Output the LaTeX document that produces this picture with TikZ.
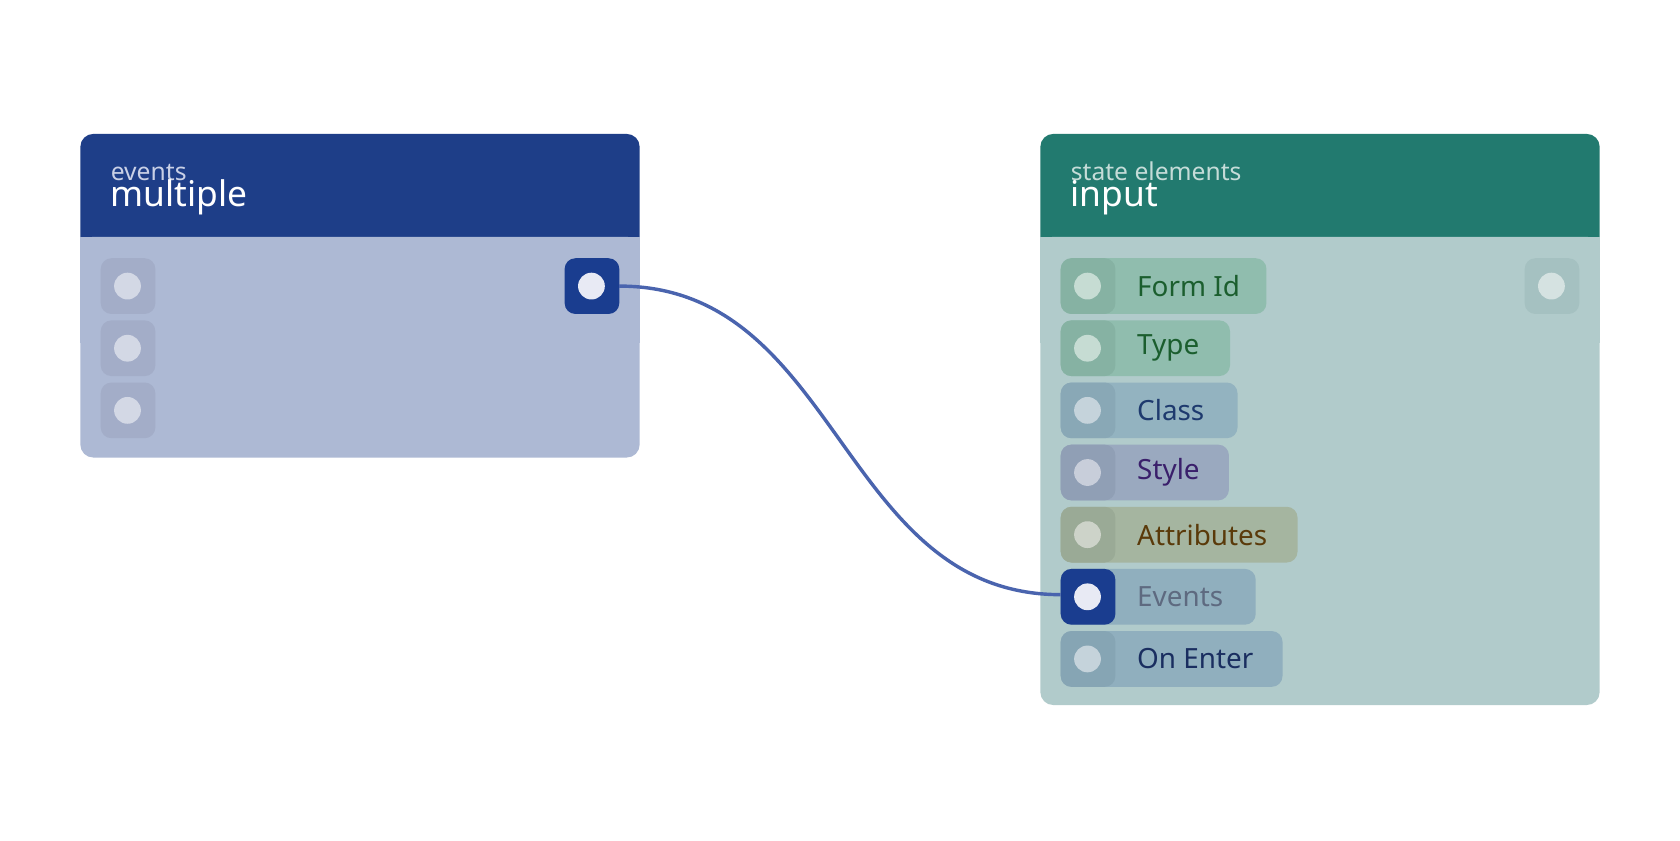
\documentclass[tikz,border=0pt]{standalone}
\usepackage{fontspec}
\setmainfont{Noto Sans}
\begin{document}
\begin{tikzpicture}[x=0.5pt,y=-0.5pt,
  pill/.style={rounded corners=5pt},
  dot/.style={circle,minimum size=12.5pt,inner sep=0pt},
  lbl/.style={anchor=west,inner sep=0pt,font=\fontsize{13}{13}\selectfont},
  sub/.style={anchor=base west,inner sep=0pt,font=\fontsize{11.5}{12}\selectfont},
  ttl/.style={anchor=base west,inner sep=0pt,font=\fontsize{16.5}{17}\selectfont,text=white}]
\definecolor{hblue}{HTML}{1E3E88}\definecolor{bblue}{HTML}{ADB9D4}
\definecolor{hgreen}{HTML}{227A6F}\definecolor{bgreen}{HTML}{B1CBCB}
\definecolor{wire}{HTML}{4A64AE}\definecolor{actv}{HTML}{1A3D8F}
\definecolor{lsubc}{HTML}{C9D0E6}\definecolor{rsubc}{HTML}{C5DCD8}
\definecolor{lport}{HTML}{A3ADC8}\definecolor{ldot}{HTML}{D3D8E5}
\definecolor{wdot}{HTML}{E8EAF4}\definecolor{rport}{HTML}{A5C1C1}\definecolor{rdot}{HTML}{D5E2E1}
\useasboundingbox (0,0) rectangle (1568,784);
\fill[white] (0,0) rectangle (1568,784);
% left box
\fill[hblue,rounded corners=6pt] (75,125) rectangle (597,250);
\fill[bblue,rounded corners=6pt] (75,221) rectangle (597,427);
\fill[bblue] (75,221) rectangle (597,320);
\node[sub,text=lsubc] (lsub) at (103,168) {events};
\node[ttl] (lttl) at (103,193) {multiple};
\foreach \y/\n in {267/a,325/b,383/c}{
  \fill[lport,pill] (94,\y-26) rectangle (145,\y+26);
  \node[dot,fill=ldot] (in\n) at (119,\y) {};}
\fill[actv,pill] (527,241) rectangle (578,293);
\node[dot,fill=wdot] (out) at (552,267) {};
% right box
\fill[hgreen,rounded corners=6pt] (971,125) rectangle (1493,250);
\fill[bgreen,rounded corners=6pt] (971,221) rectangle (1493,658);
\fill[bgreen] (971,221) rectangle (1493,320);
\node[sub,text=rsubc] (rsub) at (999,168) {state elements};
\node[ttl] (rttl) at (999,193) {input};
\fill[rport,pill] (1423,241) rectangle (1474,293);
\node[dot,fill=rdot] (rout) at (1448,267) {};
\foreach \y/\w/\pc/\qc/\dc/\tc/\t/\n in {
  267/1182/90BDAE/86B2A3/C6DCD3/1B5E2E/Form Id/fid,
  325/1148/90BDAE/86B2A3/C6DCD3/1B5E2E/Type/typ,
  383/1155/93B3C0/89A8B6/C5D3DB/1E3A6E/Class/cls,
  441/1147/9AA9BF/909FB5/C8CEDA/3A1F6B/Style/sty,
  499/1211/A5B5A0/9AAA96/CDD3C9/5A3A0A/Attributes/att,
  557/1172/90AFBE/90AFBE/C5D3DB/5E6A80/Events/evt,
  615/1197/90AFBE/86A5B4/C5D3DB/1A2E60/On Enter/ent}{
  \definecolor{cp}{HTML}{\pc}\definecolor{cq}{HTML}{\qc}
  \definecolor{cd}{HTML}{\dc}\definecolor{ct}{HTML}{\tc}
  \fill[cp,pill] (990,\y-26) rectangle (\w,\y+26);
  \fill[cq,pill] (990,\y-26) rectangle (1041,\y+26);
  \node[dot,fill=cd] (p\n) at (1015,\y) {};
  \node[lbl,text=ct] (l\n) at (1061,\y) {\t};}
\fill[actv,pill] (990,531) rectangle (1041,583);
\node[dot,fill=wdot] (pevt2) at (1015,557) {};
\draw[wire,line width=1.6pt] (out.east) ++(13,0) .. controls (784,267) and (784,555) .. (990,555);
\end{tikzpicture}
\end{document}
